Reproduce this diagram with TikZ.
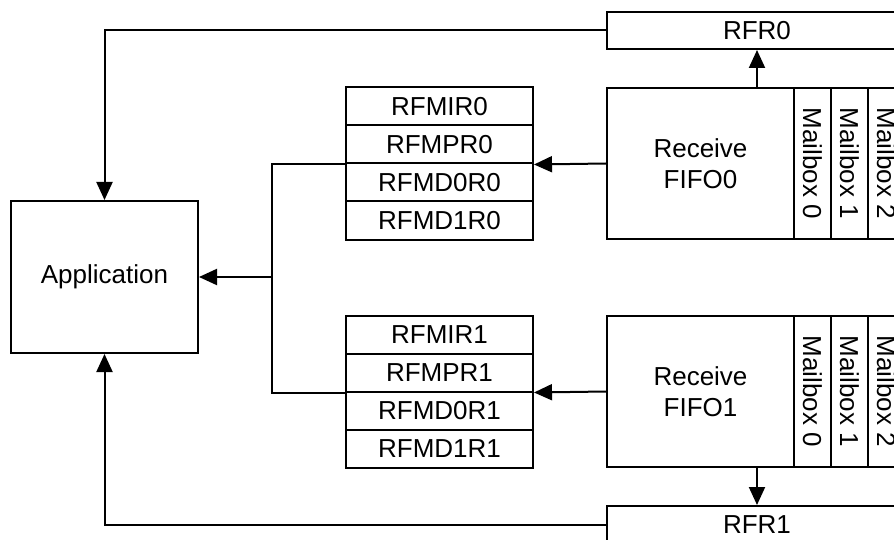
\documentclass[tikz,border=0pt]{standalone}
\usepackage{fontspec}
\setmainfont{Liberation Sans}
\usetikzlibrary{arrows.meta}
\begin{document}
\begin{tikzpicture}[x=1pt,y=-1pt,
  every node/.style={font=\fontsize{26}{31}\selectfont},
  box/.style={draw, line width=2pt, inner sep=0pt, rectangle},
  reg/.style={box, minimum width=187pt, minimum height=38pt},
  fifo/.style={box, minimum width=187pt, minimum height=151pt, align=center},
  mbox/.style={box, rotate=-90, minimum width=151pt, minimum height=37pt},
  rfr/.style={box, minimum width=300pt, minimum height=37pt},
  conn/.style={line width=2pt},
  arr/.style={conn, -{Triangle[length=18pt,width=16pt]}},
]
\useasboundingbox (0,0) rectangle (894,540);
\begin{scope}
\clip (0,0) rectangle (894,540);
% Application
\node[box, minimum width=187pt, minimum height=152pt] (app) at (104.5,277) {Application};
% register stack 0
\node[reg] (rfmir0) at (439.5,106.5) {RFMIR0};
\node[reg] (rfmpr0) at (439.5,144.5) {RFMPR0};
\node[reg] (rfmd0r0) at (439.5,182.5) {RFMD0R0};
\node[reg] (rfmd1r0) at (439.5,220.5) {RFMD1R0};
% register stack 1
\node[reg] (rfmir1) at (439.5,334.5) {RFMIR1};
\node[reg] (rfmpr1) at (439.5,372.5) {RFMPR1};
\node[reg] (rfmd0r1) at (439.5,410.5) {RFMD0R1};
\node[reg] (rfmd1r1) at (439.5,448.5) {RFMD1R1};
% FIFO 0
\node[fifo] (fifo0) at (700.5,163.5) {Receive\\FIFO0};
\node[mbox] (mb00) at (812.5,163.5) {Mailbox 0};
\node[mbox] (mb01) at (849.5,163.5) {Mailbox 1};
\node[mbox] (mb02) at (886.5,163.5) {Mailbox 2};
% FIFO 1
\node[fifo] (fifo1) at (700.5,391.5) {Receive\\FIFO1};
\node[mbox] (mb10) at (812.5,391.5) {Mailbox 0};
\node[mbox] (mb11) at (849.5,391.5) {Mailbox 1};
\node[mbox] (mb12) at (886.5,391.5) {Mailbox 2};
% RFR registers
\node[rfr] (rfr0) at (757,30.5) {RFR0};
\node[rfr] (rfr1) at (757,524.5) {RFR1};
% connectors
\draw[arr] (fifo0.west) -- (rfmpr0.south east);
\draw[arr] (fifo1.west) -- (rfmpr1.south east);
\coordinate (j) at (272,277);
\draw[conn] (rfmpr0.south west) -| (j) |- (rfmpr1.south west);
\draw[arr] (j) -- (app.east);
\draw[arr] (rfr0.south |- fifo0.north) -- (rfr0.south);
\draw[arr] (rfr1.north |- fifo1.south) -- (rfr1.north);
\draw[arr] (rfr0.west) -| (app.north);
\draw[arr] (rfr1.west) -| (app.south);
\end{scope}
\end{tikzpicture}
\end{document}
